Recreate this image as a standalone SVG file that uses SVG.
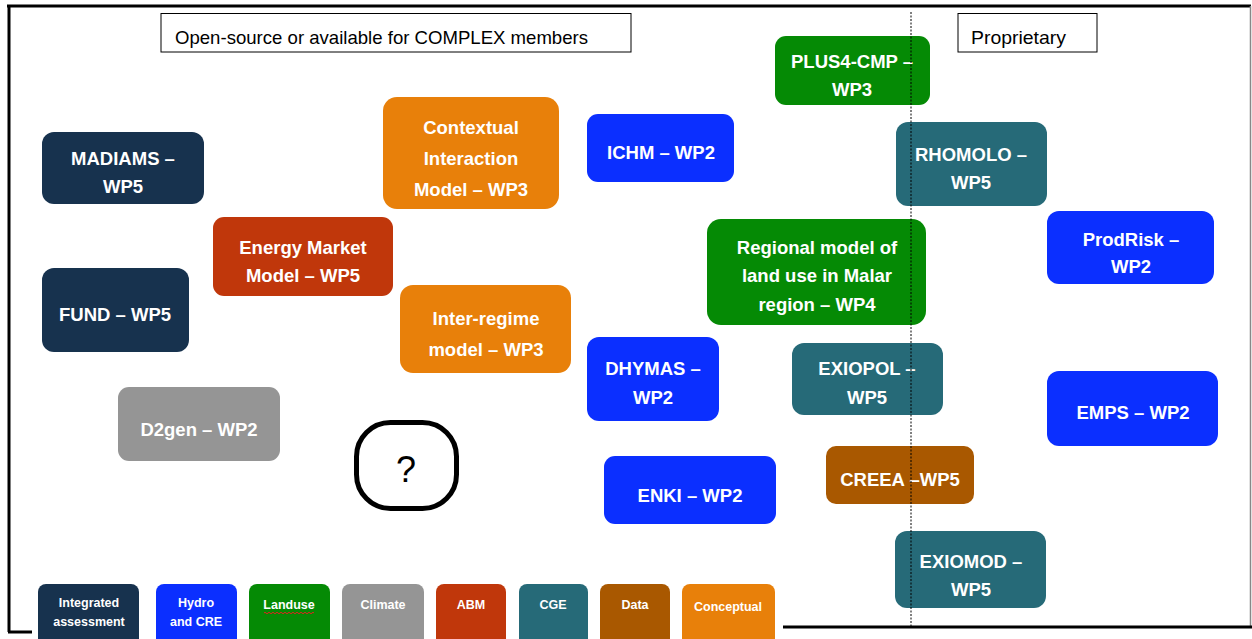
<svg xmlns="http://www.w3.org/2000/svg" width="1252" height="639" viewBox="0 0 1252 639">
<style>
.ia{fill:#17324e}.hy{fill:#0b2fff}.lu{fill:#058a05}.cl{fill:#959595}.abm{fill:#c0370b}.cge{fill:#266a78}.da{fill:#a95800}.co{fill:#e8800a}
.t{font-family:"Liberation Sans",Arial,sans-serif;font-weight:bold;font-size:18.5px;fill:#fff;text-anchor:middle}
.lt{font-family:"Liberation Sans",Arial,sans-serif;font-weight:bold;font-size:12.5px;fill:#fff;text-anchor:middle}
.lab{font-family:"Liberation Sans",Arial,sans-serif;font-size:18.5px;fill:#000}
</style>
<rect x="0" y="0" width="1252" height="639" fill="#fff"/>
<g id="frame" fill="none">
<line x1="7" y1="6" x2="1251" y2="6" stroke="#000" stroke-width="3"/>
<line x1="9" y1="5" x2="9" y2="632" stroke="#000" stroke-width="3"/>
<line x1="1250.5" y1="6" x2="1250.5" y2="627" stroke="#888" stroke-width="1.5"/>
<line x1="8" y1="632" x2="32" y2="632" stroke="#000" stroke-width="3"/>
<line x1="783" y1="627" x2="1252" y2="627" stroke="#000" stroke-width="3"/>
</g>
<g id="labels">
<rect x="161" y="13.5" width="470" height="38.5" fill="#fff" stroke="#000" stroke-width="1"/>
<text class="lab" x="175" y="44" textLength="413" lengthAdjust="spacingAndGlyphs">Open-source or available for COMPLEX members</text>
<rect x="958" y="13.5" width="139" height="38.5" fill="#fff" stroke="#000" stroke-width="1"/>
<text class="lab" x="971" y="44" textLength="95" lengthAdjust="spacingAndGlyphs">Proprietary</text>
</g>
<g id="madiams"><rect class="ia" x="42" y="132" width="162" height="72" rx="12"/><text class="t" x="123" y="165">MADIAMS –</text><text class="t" x="123" y="193">WP5</text></g>
<g id="contextual"><rect class="co" x="383" y="97" width="176" height="112" rx="14"/><text class="t" x="471" y="134">Contextual</text><text class="t" x="471" y="165">Interaction</text><text class="t" x="471" y="196">Model – WP3</text></g>
<g id="ichm"><rect class="hy" x="587" y="114" width="147" height="68" rx="11"/><text class="t" x="661" y="159">ICHM – WP2</text></g>
<g id="plus4"><rect class="lu" x="775" y="36" width="155" height="69" rx="11"/><text class="t" x="852" y="68">PLUS4-CMP –</text><text class="t" x="852" y="96">WP3</text></g>
<g id="rhomolo"><rect class="cge" x="896" y="122" width="151" height="84" rx="12"/><text class="t" x="971" y="161">RHOMOLO –</text><text class="t" x="971" y="189">WP5</text></g>
<g id="energy"><rect class="abm" x="213" y="217" width="180" height="79" rx="11"/><text class="t" x="303" y="254">Energy Market</text><text class="t" x="303" y="282">Model – WP5</text></g>
<g id="regional"><rect class="lu" x="707" y="219" width="219" height="106" rx="14"/><text class="t" x="817" y="254">Regional model of</text><text class="t" x="817" y="282">land use in Malar</text><text class="t" x="817" y="311">region – WP4</text></g>
<g id="prodrisk"><rect class="hy" x="1047" y="211" width="167" height="73" rx="12"/><text class="t" x="1131" y="246">ProdRisk –</text><text class="t" x="1131" y="273">WP2</text></g>
<g id="fund"><rect class="ia" x="42" y="268" width="147" height="84" rx="12"/><text class="t" x="115" y="321">FUND – WP5</text></g>
<g id="interregime"><rect class="co" x="400" y="285" width="171" height="88" rx="13"/><text class="t" x="486" y="325">Inter-regime</text><text class="t" x="486" y="356">model – WP3</text></g>
<g id="dhymas"><rect class="hy" x="587" y="337" width="132" height="84" rx="12"/><text class="t" x="653" y="375">DHYMAS –</text><text class="t" x="653" y="404">WP2</text></g>
<g id="exiopol"><rect class="cge" x="792" y="343" width="151" height="72" rx="12"/><text class="t" x="867" y="375">EXIOPOL –</text><text class="t" x="867" y="404">WP5</text></g>
<g id="emps"><rect class="hy" x="1047" y="371" width="171" height="75" rx="12"/><text class="t" x="1133" y="419">EMPS – WP2</text></g>
<g id="d2gen"><rect class="cl" x="118" y="387" width="162" height="74" rx="11"/><text class="t" x="199" y="436">D2gen – WP2</text></g>
<g id="question"><rect x="356.5" y="422.5" width="100" height="86" rx="34" fill="#fff" stroke="#000" stroke-width="5"/><text x="406" y="482" font-family="Liberation Sans,Arial,sans-serif" font-size="36" text-anchor="middle" fill="#000">?</text></g>
<g id="creea"><rect class="da" x="826" y="446" width="148" height="58" rx="10"/><text class="t" x="900" y="486">CREEA –WP5</text></g>
<g id="enki"><rect class="hy" x="604" y="456" width="172" height="68" rx="11"/><text class="t" x="690" y="502">ENKI – WP2</text></g>
<g id="exiomod"><rect class="cge" x="895" y="531" width="151" height="77" rx="12"/><text class="t" x="971" y="568">EXIOMOD –</text><text class="t" x="971" y="596">WP5</text></g>
<g id="connectors"><line x1="911" y1="12" x2="911" y2="627" stroke="#000" stroke-width="1" stroke-dasharray="2,1.5"/></g>
<g id="legend">
<g id="leg-ia"><rect class="ia" x="38" y="584" width="101" height="70" rx="8"/><text class="lt" x="89" y="607">Integrated</text><text class="lt" x="89" y="626">assessment</text></g>
<g id="leg-hy"><rect class="hy" x="156" y="584" width="81" height="70" rx="8"/><text class="lt" x="196" y="607">Hydro</text><text class="lt" x="196" y="626">and CRE</text></g>
<g id="leg-lu"><rect class="lu" x="249" y="584" width="81" height="70" rx="8"/><text class="lt" x="289" y="609">Landuse</text><path d="M264 613 q1 -1.5 2 0 t2 0 t2 0 t2 0 t2 0 t2 0 t2 0 t2 0 t2 0 t2 0 t2 0 t2 0 t2 0 t2 0 t2 0 t2 0 t2 0 t2 0 t2 0 t2 0 t2 0 t2 0 t2 0 t2 0 t2 0" fill="none" stroke="#e02020" stroke-width="1"/></g>
<g id="leg-cl"><rect class="cl" x="342" y="584" width="82" height="70" rx="8"/><text class="lt" x="383" y="609">Climate</text></g>
<g id="leg-abm"><rect class="abm" x="436" y="584" width="70" height="70" rx="8"/><text class="lt" x="471" y="609">ABM</text></g>
<g id="leg-cge"><rect class="cge" x="519" y="584" width="69" height="70" rx="8"/><text class="lt" x="553" y="609">CGE</text></g>
<g id="leg-da"><rect class="da" x="600" y="584" width="70" height="70" rx="8"/><text class="lt" x="635" y="609">Data</text></g>
<g id="leg-co"><rect class="co" x="682" y="584" width="93" height="70" rx="8"/><text class="lt" x="728" y="611">Conceptual</text></g>
</g>
</svg>
